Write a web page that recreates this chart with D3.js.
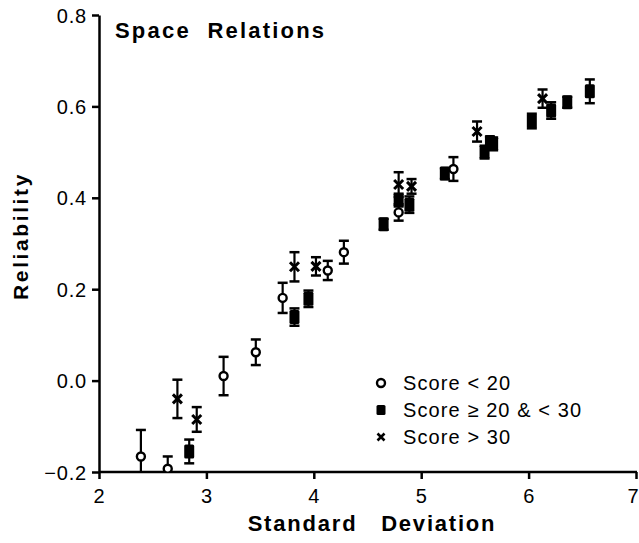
<!DOCTYPE html>
<html><head><meta charset="utf-8">
<script src="https://cdn.jsdelivr.net/npm/d3@7"></script>
<style>body{margin:0;background:#fff}svg{display:block}text{font-family:"Liberation Sans",Arial,sans-serif;fill:#000}</style>
</head><body><svg id="c" width="639" height="543"></svg>
<script>
// Data
const lowSD   = [2.39, 2.64, 3.16, 3.46, 3.71, 4.13, 4.28, 4.79, 5.30];
const lowRel  = [-0.166, -0.193, 0.010, 0.062, 0.181, 0.241, 0.281, 0.368, 0.463];
const lowErr  = [0.058, 0.027, 0.042, 0.028, 0.033, 0.021, 0.025, 0.018, 0.026];

const midSD   = [2.84, 3.82, 3.95, 4.65, 4.79, 4.89, 5.22, 5.59, 5.64, 5.67, 6.03, 6.21, 6.36, 6.57];
const midRel  = [-0.155, 0.139, 0.179, 0.342, 0.395, 0.385, 0.453, 0.500, 0.522, 0.518, 0.568, 0.591, 0.609, 0.633];
const midErr  = [0.026, 0.019, 0.018, 0.012, 0.014, 0.018, 0.012, 0.014, 0.012, 0.014, 0.016, 0.018, 0.012, 0.026];

const highSD  = [2.73, 2.91, 3.82, 4.02, 4.79, 4.91, 5.52, 6.13];
const highRel = [-0.040, -0.085, 0.249, 0.250, 0.429, 0.425, 0.545, 0.617];
const highErr = [0.042, 0.027, 0.032, 0.020, 0.027, 0.016, 0.022, 0.020];

const xTicks = [2, 3, 4, 5, 6, 7];
const yTicks = [-0.2, 0.0, 0.2, 0.4, 0.6, 0.8];
const legendLabels = ["Score < 20", "Score \u2265 20 & < 30", "Score > 30"];

const svg = d3.select("#c");
const x = d3.scaleLinear().domain([2, 7]).range([99, 636]);
const y = d3.scaleLinear().domain([-0.2, 0.8]).range([472, 15]);

svg.append("clipPath").attr("id", "plotclip").append("rect")
  .attr("x", 90).attr("y", 10).attr("width", 549).attr("height", 462);

// Axes
const xAxis = d3.axisBottom(x).tickValues(xTicks).tickFormat(d3.format("d")).tickSize(7).tickSizeOuter(0).tickPadding(10);
const yAxis = d3.axisLeft(y).tickValues(yTicks).tickFormat(d3.format(".1f")).tickSize(7).tickSizeOuter(0).tickPadding(5);

const gx = svg.append("g").attr("transform", "translate(0,472)").call(xAxis);
const gy = svg.append("g").attr("transform", "translate(99,0)").call(yAxis);
[gx, gy].forEach(g => {
  g.select(".domain").attr("stroke", "#000").attr("stroke-width", 2.5);
  g.selectAll(".tick line").attr("stroke", "#000").attr("stroke-width", 2.5);
  g.selectAll(".tick text").attr("font-size", 20).attr("letter-spacing", 0.8)
    .attr("font-family", "Liberation Sans, Arial, sans-serif").attr("fill", "#000");
});
gx.select(".domain").attr("d", "M99,0H637");
gy.selectAll(".tick text").attr("dy", "0.35em");
gx.selectAll(".tick text").filter(d => d === 7).attr("text-anchor", "end").attr("dx", 3);

const plot = svg.append("g").attr("clip-path", "url(#plotclip)");

function errorBars(sd, rel, err) {
  const g = plot.append("g");
  sd.forEach((s, i) => {
    const cx = x(s), y1 = y(rel[i] + err[i]), y2 = y(rel[i] - err[i]);
    g.append("line").attr("x1", cx).attr("x2", cx).attr("y1", y1).attr("y2", y2)
      .attr("stroke", "#000").attr("stroke-width", 2.2);
    [y1, y2].forEach(yy => g.append("line").attr("x1", cx - 5).attr("x2", cx + 5)
      .attr("y1", yy).attr("y2", yy).attr("stroke", "#000").attr("stroke-width", 2.5));
  });
}
errorBars(midSD, midRel, midErr);
errorBars(highSD, highRel, highErr);
errorBars(lowSD, lowRel, lowErr);

function drawCircle(g, cx, cy) {
  g.append("circle").attr("cx", cx).attr("cy", cy).attr("r", 4)
    .attr("fill", "#fff").attr("stroke", "#000").attr("stroke-width", 2.4);
}
function drawSquare(g, cx, cy) {
  g.append("rect").attr("x", cx - 5).attr("y", cy - 7).attr("width", 10).attr("height", 14)
    .attr("rx", 1.5).attr("fill", "#000");
}
function drawCross(g, cx, cy) {
  g.append("path").attr("d", `M${cx-4.5},${cy-4.5}L${cx+4.5},${cy+4.5}M${cx-4.5},${cy+4.5}L${cx+4.5},${cy-4.5}`)
    .attr("stroke", "#000").attr("stroke-width", 3);
}

const mg = plot.append("g");
midSD.forEach((s, i) => drawSquare(mg, x(s), y(midRel[i])));
highSD.forEach((s, i) => drawCross(mg, x(s), y(highRel[i])));
lowSD.forEach((s, i) => drawCircle(mg, x(s), y(lowRel[i])));

// Title
svg.append("text").attr("x", 115).attr("y", 38).attr("font-size", 22).attr("font-weight", "bold")
  .attr("letter-spacing", 2.2).style("white-space", "pre").text("Space  Relations");

// Axis titles
svg.append("text").attr("x", 372).attr("y", 531).attr("text-anchor", "middle")
  .attr("font-size", 22).attr("font-weight", "bold").attr("letter-spacing", 1.8)
  .style("white-space", "pre").text("Standard   Deviation");
svg.append("text").attr("transform", "translate(28,236) rotate(-90)").attr("text-anchor", "middle")
  .attr("font-size", 21).attr("font-weight", "bold").attr("letter-spacing", 2.6).text("Reliability");

// Legend
const lg = svg.append("g");
const legY = [383, 410, 437];
drawCircle(lg, 381, legY[0]);
lg.append("rect").attr("x", 376.5).attr("y", legY[1] - 5).attr("width", 9).attr("height", 10).attr("rx", 1.5).attr("fill", "#000");
lg.append("path").attr("d", `M${377.5},${legY[2]-3.5}L${384.5},${legY[2]+3.5}M${377.5},${legY[2]+3.5}L${384.5},${legY[2]-3.5}`)
  .attr("stroke", "#000").attr("stroke-width", 2.6);
legendLabels.forEach((t, i) => lg.append("text").attr("x", 403).attr("y", legY[i]).attr("dy", "0.36em")
  .attr("font-size", 20).attr("letter-spacing", 1.1).text(t));
</script></body></html>
